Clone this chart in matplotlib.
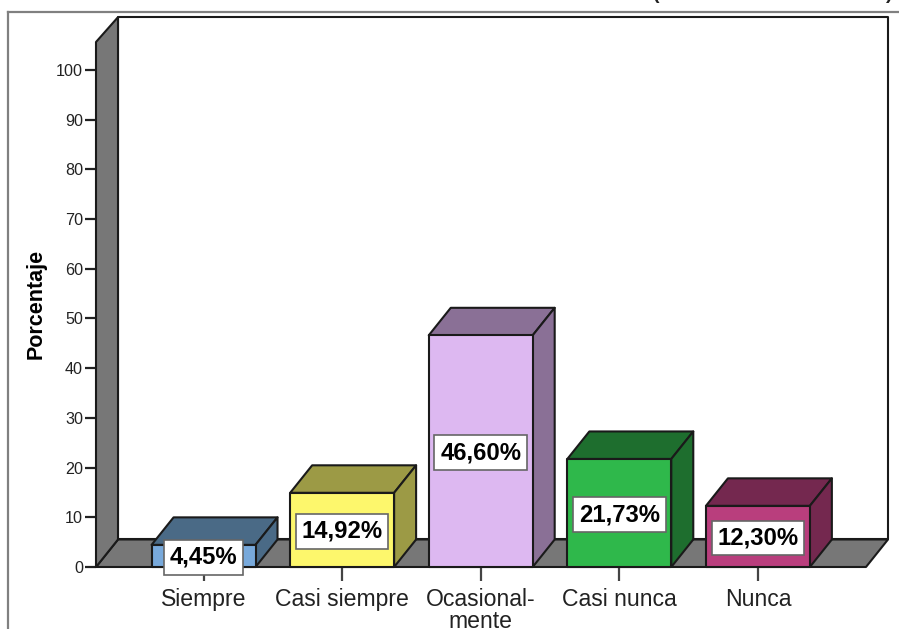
import matplotlib
matplotlib.use("Agg")
import matplotlib.pyplot as plt
from matplotlib.lines import Line2D
from matplotlib.patches import Polygon

categories = ["Siempre", "Casi siempre", "Ocasional-\nmente", "Casi nunca", "Nunca"]
values = [4.45, 14.92, 46.60, 21.73, 12.30]
value_labels = ["4,45%", "14,92%", "46,60%", "21,73%", "12,30%"]
y_ticks = [0, 10, 20, 30, 40, 50, 60, 70, 80, 90, 100]
front_colors = ["#78A9DB", "#FDF76C", "#DDB8F1", "#2FB84B", "#B93E7D"]
shade_colors = ["#4A6A86", "#9C9A45", "#8A7096", "#1E6E2E", "#74284F"]

W, H = 899, 629
WALL = "#777777"
EDGE = "#1a1a1a"

plt.rcParams["font.family"] = ["Liberation Sans", "DejaVu Sans"]

fig = plt.figure(figsize=(W / 100, H / 100), dpi=100)
ax = fig.add_axes([96 / W, 1 - 567 / H, 770 / W, 525 / H])

ax.set_xlim(-0.776, 4.78)
ax.set_ylim(0, 105.6)

# 3d depth in data units
dx = 22 / 138.6
dy = 27.5 / 4.97
wall_top = 110.6
bar_w = 0.75
x0, x1 = ax.get_xlim()
y1 = ax.get_ylim()[1]


def poly(pts, color, z):
    ax.add_patch(Polygon(pts, closed=True, facecolor=color, edgecolor=EDGE, linewidth=1.5,
                         joinstyle="round", clip_on=False, zorder=z))


# back wall, left wall and floor
poly([(x0 + dx, dy), (x0 + dx, wall_top), (x1 + dx, wall_top), (x1 + dx, dy)], "white", 1)
poly([(x0, 0), (x0 + dx, dy), (x1 + dx, dy), (x1, 0)], WALL, 2)
poly([(x0, 0), (x0, y1), (x0 + dx, wall_top), (x0 + dx, dy)], WALL, 2)

for i, v in enumerate(values):
    l = i - bar_w / 2
    r = i + bar_w / 2
    poly([(l, v), (l + dx, v + dy), (r + dx, v + dy), (r, v)], shade_colors[i], 3)
    poly([(r, 0), (r + dx, dy), (r + dx, v + dy), (r, v)], shade_colors[i], 3)
    poly([(l, 0), (l, v), (r, v), (r, 0)], front_colors[i], 4)
    # label sits 1.5px below the middle of the bar
    ax.annotate(value_labels[i], (i, v / 2), xytext=(0, -1.1), textcoords="offset points",
                ha="center", va="center", fontsize=17.2, fontweight="bold", color="black", zorder=6,
                bbox=dict(boxstyle="square,pad=0.24", facecolor="white", edgecolor="#666666", linewidth=1.2))

for s in ax.spines.values():
    s.set_visible(False)

ax.set_yticks(y_ticks)
ax.set_xticks(range(len(categories)))
ax.set_xticklabels(categories, fontsize=16.6, color="#222222", linespacing=0.95)
ax.tick_params(axis="y", length=8, width=1.6, color="#222222", labelsize=11.6, pad=1.4, labelcolor="#222222")
ax.tick_params(axis="x", length=10, width=1.6, color="#444444", pad=5)
ax.set_ylabel("Porcentaje", fontsize=15.5, fontweight="bold")
ax.yaxis.set_label_coords(-0.0635, 0.501)

# outer chart frame, cut off by the screenshot
fig.add_artist(Line2D([8 / W, 8 / W], [0, 1 - 12 / H], color="#808080", linewidth=1.6))
fig.add_artist(Line2D([8 / W, 1], [1 - 12 / H, 1 - 12 / H], color="#808080", linewidth=1.6))
# tail ends of the title brackets at the top edge
fig.text(656 / W, 1 - 3 / H, "(", fontsize=14, fontweight="bold", ha="center", va="bottom", color="#222222")
fig.text(889 / W, 1 - 3 / H, ")", fontsize=14, fontweight="bold", ha="center", va="bottom", color="#222222")

fig.savefig("out.png", dpi=100)
plt.close(fig)
